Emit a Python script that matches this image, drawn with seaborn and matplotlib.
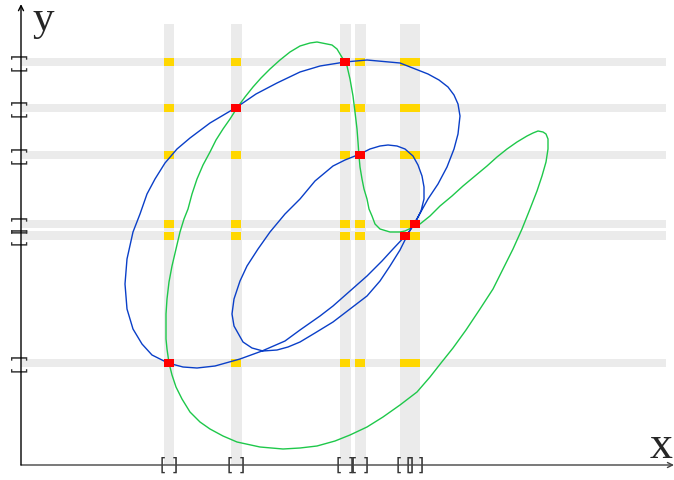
import matplotlib
matplotlib.use("Agg")
import matplotlib.pyplot as plt
import seaborn as sns

# intersection points of the two curves (also where the bands sit)
cross_x = [1.48, 2.155, 3.245, 3.395, 3.84, 3.94]
cross_y = [1.02, 3.57, 4.03, 3.10, 2.295, 2.41]
tick_text = ["[ ]"] * 6

# blue curve, traced: outer loop then inner loop, through the node
blue_x = [3.88, 3.97, 4.07, 4.17, 4.26, 4.33, 4.37, 4.39, 4.37, 4.33, 4.27, 4.18,
          4.07, 3.79, 3.46, 3.24, 2.99, 2.79, 2.56, 2.35, 2.16, 1.89, 1.69, 1.56,
          1.44, 1.34, 1.26, 1.19, 1.12, 1.06, 1.04, 1.06, 1.12, 1.21, 1.31, 1.47,
          1.62, 1.76, 1.94, 2.19, 2.41, 2.64, 2.79, 2.99, 3.12, 3.29, 3.46, 3.61,
          3.72,
          3.88, 3.95, 4.00, 4.03, 4.03, 4.01, 3.97, 3.92, 3.84, 3.76, 3.67, 3.59,
          3.49, 3.39, 3.24, 3.12, 2.94, 2.79, 2.64, 2.49, 2.37, 2.26, 2.19, 2.13,
          2.11, 2.13, 2.22, 2.31, 2.42, 2.56, 2.67, 2.79, 2.94, 3.12, 3.29, 3.46,
          3.59, 3.69, 3.79, 3.88]
blue_y = [2.33, 2.48, 2.66, 2.81, 2.98, 3.16, 3.31, 3.49, 3.61, 3.70, 3.78, 3.85,
          3.91, 4.02, 4.05, 4.03, 3.99, 3.93, 3.82, 3.71, 3.58, 3.42, 3.27, 3.16,
          3.02, 2.86, 2.71, 2.51, 2.33, 2.06, 1.81, 1.56, 1.36, 1.21, 1.10, 1.02,
          0.98, 0.97, 0.99, 1.06, 1.14, 1.24, 1.35, 1.49, 1.59, 1.74, 1.89, 2.04,
          2.16,
          2.33, 2.44, 2.54, 2.66, 2.78, 2.89, 3.00, 3.09, 3.16, 3.19, 3.20, 3.19,
          3.16, 3.11, 3.05, 2.99, 2.84, 2.66, 2.51, 2.33, 2.16, 1.99, 1.84, 1.66,
          1.51, 1.39, 1.23, 1.17, 1.14, 1.15, 1.18, 1.23, 1.32, 1.43, 1.56, 1.69,
          1.84, 1.99, 2.15, 2.33]

# green curve, traced
green_x = [1.48, 1.51, 1.55, 1.61, 1.69, 1.79, 1.89, 2.02, 2.16, 2.39, 2.62, 2.79,
           2.96, 3.14, 3.29, 3.46, 3.62, 3.79, 3.96, 4.09, 4.20, 4.32, 4.45, 4.59,
           4.72, 4.82, 4.92, 5.01, 5.09, 5.16, 5.21, 5.25, 5.27, 5.27, 5.25, 5.22,
           5.17, 5.12, 5.06, 4.96, 4.86, 4.76, 4.66, 4.54, 4.42, 4.31, 4.19, 4.09,
           3.99, 3.92, 3.84, 3.79, 3.69, 3.59, 3.54, 3.51, 3.48, 3.46, 3.43, 3.41,
           3.39, 3.38, 3.37, 3.36, 3.34, 3.32, 3.29, 3.26, 3.22, 3.16, 3.11, 3.06,
           2.96, 2.89, 2.79, 2.69, 2.59, 2.49, 2.40, 2.32, 2.24, 2.16, 2.09, 2.02,
           1.95, 1.89, 1.82, 1.76, 1.71, 1.67, 1.63, 1.59, 1.55, 1.51, 1.48, 1.46,
           1.45, 1.45, 1.45, 1.46, 1.48]
green_y = [1.02, 0.90, 0.78, 0.66, 0.53, 0.43, 0.36, 0.29, 0.23, 0.18, 0.16, 0.17,
           0.19, 0.24, 0.30, 0.38, 0.48, 0.60, 0.73, 0.88, 1.02, 1.17, 1.35, 1.56,
           1.76, 1.96, 2.16, 2.36, 2.56, 2.74, 2.89, 3.03, 3.16, 3.26, 3.31, 3.33,
           3.34, 3.32, 3.29, 3.23, 3.16, 3.08, 2.99, 2.89, 2.79, 2.69, 2.59, 2.49,
           2.41, 2.38, 2.34, 2.33, 2.33, 2.36, 2.41, 2.49, 2.56, 2.66, 2.76, 2.86,
           2.98, 3.09, 3.23, 3.36, 3.53, 3.69, 3.86, 3.99, 4.06, 4.16, 4.20, 4.21,
           4.23, 4.22, 4.19, 4.13, 4.05, 3.96, 3.87, 3.78, 3.68, 3.57, 3.46, 3.36,
           3.25, 3.13, 3.00, 2.86, 2.71, 2.56, 2.46, 2.33, 2.16, 1.99, 1.83, 1.66,
           1.51, 1.39, 1.26, 1.16, 1.02]

sns.set_style("white")

fig = plt.figure(figsize=(6.74, 4.81), dpi=100)
ax = fig.add_axes([21 / 674, 15 / 481, 653 / 674, 466 / 481])
ax.set_xlim(0, 6.53)
ax.set_ylim(0, 4.66)
for s in ax.spines.values():
    s.set_visible(False)

band = "#ebebeb"
for x in cross_x:
    ax.axvspan(x - 0.053, x + 0.053, ymin=0, ymax=0.946, color=band, lw=0, zorder=0)
for y in cross_y:
    ax.axhspan(y - 0.043, y + 0.043, xmin=0, xmax=0.988, color=band, lw=0, zorder=0)

# yellow marks at every band crossing
rect = [(-1, -0.8), (1, -0.8), (1, 0.8), (-1, 0.8)]
grid_x = [x for x in cross_x for _ in cross_y]
grid_y = [y for _ in cross_x for y in cross_y]
sns.scatterplot(x=grid_x, y=grid_y, marker=rect, s=48, color="#ffd700",
                linewidth=0, ax=ax, zorder=2)

sns.lineplot(x=green_x, y=green_y, sort=False, estimator=None, color="#1ec84a",
             lw=1.0, ax=ax, zorder=3)
sns.lineplot(x=blue_x, y=blue_y, sort=False, estimator=None, color="#0a3fc8",
             lw=1.0, ax=ax, zorder=4)

sns.scatterplot(x=cross_x, y=cross_y, marker=rect, s=48, color="#ff0000",
                linewidth=0, ax=ax, zorder=5)

# axes with arrow heads
ax.annotate("", xy=(1.0, 0), xytext=(0, 0), xycoords="axes fraction",
            arrowprops=dict(arrowstyle="->", color="#444444", lw=1.0,
                            shrinkA=0, shrinkB=0, mutation_scale=9),
            annotation_clip=False)
ax.annotate("", xy=(0, 0.989), xytext=(0, 0), xycoords="axes fraction",
            arrowprops=dict(arrowstyle="->", color="black", lw=1.0,
                            shrinkA=0, shrinkB=0, mutation_scale=9),
            annotation_clip=False)

ax.set_xticks(cross_x, tick_text)
ax.set_yticks(cross_y, tick_text)
ax.tick_params(axis="x", length=0, pad=-6.5, labelsize=12, labelcolor="#333333")
ax.tick_params(axis="y", length=0, pad=-6.5, labelsize=12, labelcolor="#333333")
for t in ax.get_yticklabels():
    t.set_rotation(90)
    t.set_va("center")

ax.text(0.998, 0.017, "x", transform=ax.transAxes, ha="right", va="baseline",
        family="Liberation Serif", fontsize=33)
ax.text(0.018, 0.936, "y", transform=ax.transAxes, ha="left", va="baseline",
        family="Liberation Serif", fontsize=31)

fig.savefig("out.png", dpi=100)
